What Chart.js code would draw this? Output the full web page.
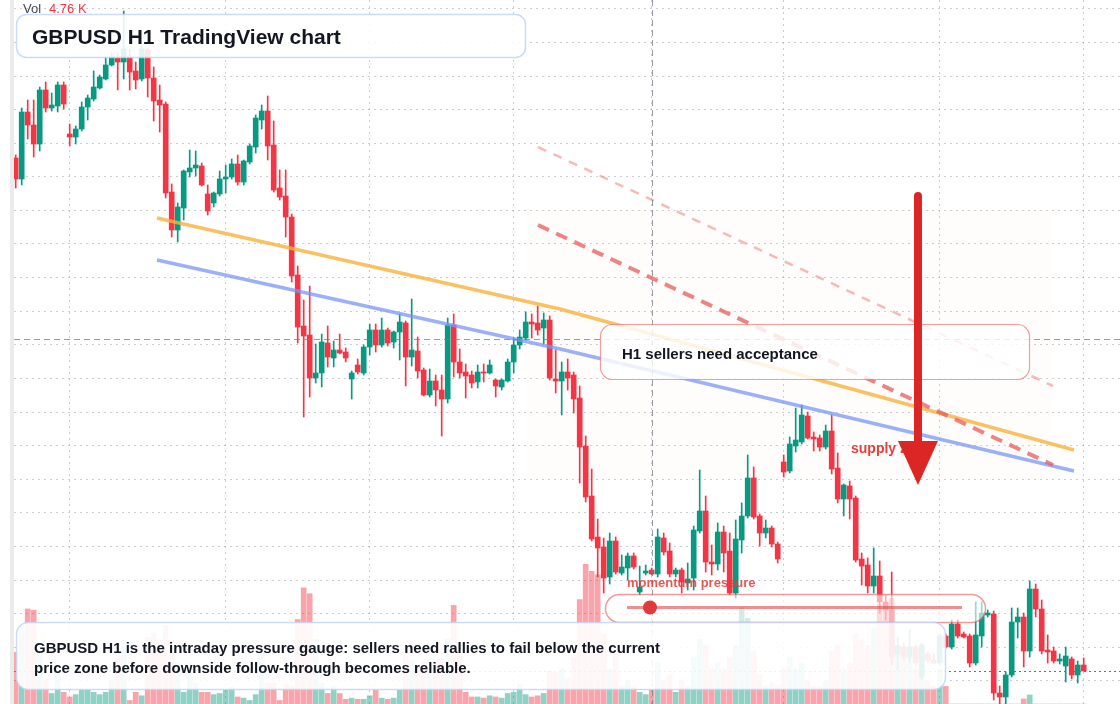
<!DOCTYPE html>
<html>
<head>
<meta charset="utf-8">
<title>GBPUSD H1 TradingView chart</title>
<script src="https://cdn.jsdelivr.net/npm/chart.js@4.4.1/dist/chart.umd.min.js"></script>
<style>
    html, body { margin: 0; padding: 0; background: #ffffff; }
    #wrap { position: relative; width: 1120px; height: 704px; }
</style>
</head>
<body>
<div id="wrap"><canvas id="chart"></canvas></div>
<script>
// GBPUSD hourly candles (oldest first)
const opens = [
    1.27652, 1.27589, 1.27790, 1.27751, 1.27694, 1.27856, 1.27802, 1.27808, 1.27871, 1.27724,
    1.27715, 1.27739, 1.27805, 1.27829, 1.27862, 1.27889, 1.27931, 1.27952, 1.27940, 1.27955,
    1.27913, 1.27889, 1.27976, 1.27892, 1.27826, 1.27814, 1.27550, 1.27436, 1.27502, 1.27610,
    1.27622, 1.27628, 1.27544, 1.27517, 1.27544, 1.27589, 1.27595, 1.27634, 1.27580, 1.27640,
    1.27685, 1.27766, 1.27793, 1.27691, 1.27562, 1.27538, 1.27475, 1.27301, 1.27148, 1.27121,
    1.26992, 1.27007, 1.27097, 1.27052, 1.27076, 1.27070, 1.26989, 1.27031, 1.27007, 1.27085,
    1.27136, 1.27091, 1.27136, 1.27100, 1.27130, 1.27157, 1.27055, 1.27073, 1.27016, 1.26941,
    1.26983, 1.26956, 1.26929, 1.27151, 1.27040, 1.27010, 1.27001, 1.26980, 1.27010, 1.27007,
    1.26986, 1.26965, 1.26983, 1.27040, 1.27091, 1.27112, 1.27160, 1.27157, 1.27142, 1.27166,
    1.26989, 1.26983, 1.27010, 1.27001, 1.26932, 1.26788, 1.26638, 1.26515, 1.26485, 1.26395,
    1.26503, 1.26407, 1.26422, 1.26458, 1.26350, 1.26407, 1.26416, 1.26404, 1.26512, 1.26473,
    1.26404, 1.26416, 1.26377, 1.26392, 1.26533, 1.26593, 1.26440, 1.26434, 1.26530, 1.26473,
    1.26347, 1.26506, 1.26578, 1.26692, 1.26578, 1.26527, 1.26542, 1.26494, 1.26740, 1.26713,
    1.26788, 1.26800, 1.26878, 1.26815, 1.26812, 1.26785, 1.26833, 1.26722, 1.26629, 1.26668,
    1.26632, 1.26449, 1.26431, 1.26368, 1.26398, 1.26320, 1.26296, 1.26164, 1.26185, 1.26155,
    1.26185, 1.26095, 1.26164, 1.26146, 1.26137, 1.26218, 1.26185, 1.26254, 1.26224, 1.26218,
    1.26137, 1.26218, 1.26281, 1.26284, 1.26047, 1.26035, 1.26101, 1.26260, 1.26275, 1.26173,
    1.26359, 1.26299, 1.26176, 1.26173, 1.26143, 1.26128, 1.26149, 1.26101, 1.26131
];
const highs = [
    1.27661, 1.27802, 1.27826, 1.27826, 1.27865, 1.27880, 1.27847, 1.27880, 1.27880, 1.27754,
    1.27748, 1.27820, 1.27841, 1.27913, 1.27901, 1.27955, 1.27967, 1.27967, 1.28093, 1.27979,
    1.27940, 1.27988, 1.27982, 1.27925, 1.27871, 1.27820, 1.27574, 1.27517, 1.27616, 1.27676,
    1.27673, 1.27637, 1.27571, 1.27550, 1.27613, 1.27631, 1.27649, 1.27661, 1.27646, 1.27694,
    1.27781, 1.27811, 1.27838, 1.27763, 1.27616, 1.27616, 1.27484, 1.27328, 1.27226, 1.27268,
    1.27094, 1.27124, 1.27148, 1.27103, 1.27124, 1.27082, 1.27013, 1.27049, 1.27091, 1.27154,
    1.27154, 1.27172, 1.27142, 1.27133, 1.27184, 1.27163, 1.27229, 1.27115, 1.27022, 1.27019,
    1.27001, 1.27001, 1.27172, 1.27184, 1.27079, 1.27034, 1.27013, 1.27031, 1.27034, 1.27046,
    1.26989, 1.26989, 1.27049, 1.27112, 1.27136, 1.27190, 1.27184, 1.27208, 1.27187, 1.27178,
    1.27076, 1.27040, 1.27049, 1.27010, 1.26968, 1.26818, 1.26719, 1.26569, 1.26512, 1.26527,
    1.26515, 1.26461, 1.26467, 1.26467, 1.26428, 1.26431, 1.26422, 1.26539, 1.26527, 1.26497,
    1.26422, 1.26422, 1.26437, 1.26548, 1.26716, 1.26638, 1.26491, 1.26557, 1.26548, 1.26527,
    1.26566, 1.26617, 1.26761, 1.26725, 1.26584, 1.26566, 1.26548, 1.26500, 1.26761, 1.26815,
    1.26902, 1.26911, 1.26890, 1.26830, 1.26821, 1.26851, 1.26881, 1.26767, 1.26674, 1.26683,
    1.26638, 1.26467, 1.26452, 1.26482, 1.26443, 1.26341, 1.26410, 1.26215, 1.26197, 1.26236,
    1.26191, 1.26197, 1.26170, 1.26164, 1.26224, 1.26224, 1.26266, 1.26266, 1.26230, 1.26224,
    1.26320, 1.26320, 1.26296, 1.26293, 1.26068, 1.26110, 1.26302, 1.26302, 1.26287, 1.26383,
    1.26374, 1.26326, 1.26221, 1.26185, 1.26164, 1.26185, 1.26155, 1.26143, 1.26152
];
const lows = [
    1.27562, 1.27571, 1.27709, 1.27655, 1.27673, 1.27790, 1.27793, 1.27790, 1.27799, 1.27688,
    1.27694, 1.27733, 1.27766, 1.27823, 1.27859, 1.27886, 1.27928, 1.27856, 1.27889, 1.27856,
    1.27859, 1.27883, 1.27835, 1.27763, 1.27730, 1.27532, 1.27415, 1.27400, 1.27466, 1.27595,
    1.27598, 1.27568, 1.27481, 1.27505, 1.27538, 1.27547, 1.27589, 1.27571, 1.27571, 1.27634,
    1.27667, 1.27739, 1.27646, 1.27550, 1.27526, 1.27415, 1.27280, 1.27097, 1.26875, 1.26935,
    1.26977, 1.26965, 1.27025, 1.27025, 1.27064, 1.27040, 1.26929, 1.27004, 1.27001, 1.27061,
    1.27070, 1.27085, 1.27088, 1.27082, 1.27046, 1.26968, 1.27028, 1.26992, 1.26938, 1.26935,
    1.26908, 1.26818, 1.26917, 1.26995, 1.26992, 1.26932, 1.26962, 1.26962, 1.26980, 1.27004,
    1.26935, 1.26956, 1.26980, 1.27007, 1.27079, 1.27106, 1.27112, 1.27121, 1.27094, 1.26986,
    1.26947, 1.26881, 1.26956, 1.26887, 1.26677, 1.26620, 1.26503, 1.26395, 1.26347, 1.26374,
    1.26404, 1.26401, 1.26386, 1.26419, 1.26341, 1.26401, 1.26401, 1.26395, 1.26461, 1.26395,
    1.26395, 1.26347, 1.26356, 1.26356, 1.26527, 1.26410, 1.26401, 1.26416, 1.26410, 1.26341,
    1.26332, 1.26467, 1.26572, 1.26569, 1.26488, 1.26512, 1.26485, 1.26437, 1.26695, 1.26707,
    1.26770, 1.26794, 1.26809, 1.26773, 1.26773, 1.26779, 1.26704, 1.26617, 1.26578, 1.26569,
    1.26440, 1.26371, 1.26347, 1.26347, 1.26287, 1.26266, 1.26131, 1.26116, 1.26146, 1.26137,
    1.26125, 1.26089, 1.26137, 1.26134, 1.26131, 1.26182, 1.26179, 1.26212, 1.26212, 1.26125,
    1.26131, 1.26185, 1.26275, 1.26026, 1.26014, 1.26014, 1.26095, 1.26212, 1.26125, 1.26155,
    1.26275, 1.26164, 1.26137, 1.26137, 1.26134, 1.26080, 1.26089, 1.26077, 1.26113
];
const closes = [
    1.27589, 1.27790, 1.27751, 1.27694, 1.27856, 1.27802, 1.27811, 1.27871, 1.27814, 1.27715,
    1.27739, 1.27805, 1.27832, 1.27865, 1.27895, 1.27931, 1.27955, 1.27940, 1.27979, 1.27910,
    1.27886, 1.27979, 1.27892, 1.27823, 1.27811, 1.27547, 1.27436, 1.27505, 1.27613, 1.27622,
    1.27631, 1.27571, 1.27493, 1.27547, 1.27589, 1.27595, 1.27634, 1.27580, 1.27643, 1.27688,
    1.27772, 1.27793, 1.27688, 1.27556, 1.27535, 1.27475, 1.27298, 1.27145, 1.27118, 1.26992,
    1.27007, 1.27100, 1.27055, 1.27076, 1.27067, 1.27052, 1.27007, 1.27010, 1.27085, 1.27136,
    1.27091, 1.27136, 1.27097, 1.27130, 1.27160, 1.27055, 1.27076, 1.27013, 1.26941, 1.26983,
    1.26956, 1.26929, 1.27151, 1.27040, 1.27007, 1.26998, 1.26977, 1.27010, 1.27007, 1.27031,
    1.26968, 1.26986, 1.27040, 1.27091, 1.27115, 1.27160, 1.27154, 1.27136, 1.27166, 1.26992,
    1.26983, 1.27010, 1.26992, 1.26929, 1.26785, 1.26635, 1.26509, 1.26482, 1.26392, 1.26503,
    1.26410, 1.26425, 1.26458, 1.26425, 1.26365, 1.26413, 1.26404, 1.26515, 1.26470, 1.26404,
    1.26416, 1.26380, 1.26389, 1.26536, 1.26593, 1.26440, 1.26434, 1.26530, 1.26467, 1.26347,
    1.26509, 1.26578, 1.26692, 1.26575, 1.26527, 1.26542, 1.26494, 1.26449, 1.26710, 1.26794,
    1.26806, 1.26881, 1.26812, 1.26809, 1.26785, 1.26833, 1.26719, 1.26629, 1.26671, 1.26629,
    1.26446, 1.26428, 1.26368, 1.26398, 1.26320, 1.26296, 1.26155, 1.26188, 1.26155, 1.26185,
    1.26137, 1.26191, 1.26146, 1.26137, 1.26218, 1.26185, 1.26254, 1.26218, 1.26215, 1.26137,
    1.26221, 1.26287, 1.26287, 1.26047, 1.26035, 1.26101, 1.26260, 1.26275, 1.26173, 1.26359,
    1.26299, 1.26173, 1.26170, 1.26143, 1.26149, 1.26158, 1.26101, 1.26131, 1.26113
];
// volume in thousands
const volumes = [
    4.4, 6.6, 8.1, 8.0, 4.6, 2.1, 0.9, 2.6, 1.0, 0.6,
    0.8, 1.2, 1.2, 1.0, 0.8, 1.0, 2.0, 4.0, 5.2, 0.3,
    1.0, 0.7, 5.7, 6.1, 5.5, 6.7, 4.3, 3.5, 1.0, 3.5,
    1.8, 1.0, 1.0, 0.8, 0.9, 1.2, 1.4, 0.6, 0.5, 0.3,
    0.8, 4.6, 1.8, 1.8, 0.3, 1.7, 1.5, 7.2, 9.9, 9.4,
    5.5, 1.8, 0.9, 1.5, 0.9, 0.4, 0.5, 0.4, 0.4, 0.7,
    1.2, 0.5, 0.4, 0.5, 1.2, 4.6, 3.7, 3.2, 3.6, 3.0,
    3.4, 3.8, 5.5, 8.4, 4.4, 1.0, 0.6, 0.6, 0.5, 0.7,
    0.6, 0.5, 0.9, 1.0, 1.7, 0.8, 0.6, 0.7, 0.9, 2.8,
    2.7, 3.0, 2.2, 4.0, 8.9, 11.9, 11.3, 11.0, 6.0, 3.0,
    4.5, 1.5, 2.0, 1.5, 1.0, 0.8, 1.2, 3.5, 2.0, 2.5,
    1.0, 2.0, 1.5, 4.0, 5.5, 5.0, 3.0, 3.5, 3.0, 4.0,
    5.0, 8.2, 7.3, 4.5, 2.5, 1.5, 1.8, 1.6, 3.0, 4.0,
    3.0, 3.5, 2.0, 1.5, 1.5, 2.0, 4.5, 5.0, 3.0, 3.5,
    6.0, 5.5, 5.0, 6.5, 8.5, 8.0, 9.0, 5.0, 4.0, 4.0,
    3.0, 5.0, 2.0, 1.5, 3.0, 1.5, 0, 0, 0, 0,
    0, 0, 0, 0, 0, 0, 0, 0, 0.43, 0.77,
    0, 0, 0, 0, 0, 0, 0, 0, 0
];
// hour bars that start a new session (vertical grid)
const sessionStarts = [9, 35, 59, 83, 106, 128, 154, 178];
const lastVolumeLabel = '4.76 K';

// drawn levels: [bar index, price] pairs
const resistanceLine = [[23.55, 1.27472], [90.72, 1.27199], [176.38, 1.26776]];
const supportLine = [[23.55, 1.27346], [90.72, 1.27079], [176.38, 1.26713]];
const channelLower = [[87.05, 1.27451], [172.88, 1.26731]];
const channelUpper = [[87.05, 1.27685], [172.88, 1.26968]];
const supplyZone = { from: 85.2, to: 172.7, top: 1.27496, bottom: 1.26692 };
const crosshair = { index: 106, price: 1.27109 };
const arrow = { index: 150.38, from: 1.27538, to: 1.26671 };

const UP = '#089981';
const DOWN = '#f23645';
const priceMax = 1.28126;
const priceMin = 1.26014;
const gridTop = 1.280996;
const gridStep = 0.001008;

const idx = opens.map((_, i) => i);
const rising = idx.map(i => closes[i] >= opens[i]);

function roundRect(ctx, x, y, w, h, r) {
    ctx.beginPath();
    ctx.moveTo(x + r, y);
    ctx.arcTo(x + w, y, x + w, y + h, r);
    ctx.arcTo(x + w, y + h, x, y + h, r);
    ctx.arcTo(x, y + h, x, y, r);
    ctx.arcTo(x, y, x + w, y, r);
    ctx.closePath();
}

function lineSet(points, color, width, dash) {
    return {
        type: 'line',
        data: points.map(p => ({ x: p[0], y: p[1] })),
        borderColor: color,
        borderWidth: width,
        borderDash: dash || [],
        pointRadius: 0,
        fill: false,
        tension: 0,
        order: 0,
        yAxisID: 'y'
    };
}

const overlay = {
    id: 'overlay',
    beforeDraw(chart) {
        const ctx = chart.ctx;
        ctx.save();
        ctx.fillStyle = '#ffffff';
        ctx.fillRect(0, 0, chart.width, chart.height);
        ctx.fillStyle = '#ebebeb';
        ctx.fillRect(10, 0, 4, chart.height);
        ctx.restore();
    },
    beforeDatasetsDraw(chart) {
        const ctx = chart.ctx;
        const xs = chart.scales.x, ys = chart.scales.y;
        const x0 = xs.getPixelForValue(supplyZone.from);
        const x1 = xs.getPixelForValue(supplyZone.to);
        const y0 = ys.getPixelForValue(supplyZone.top);
        const y1 = ys.getPixelForValue(supplyZone.bottom);
        ctx.save();
        ctx.fillStyle = 'rgba(245, 220, 205, 0.07)';
        roundRect(ctx, x0, y0, x1 - x0, y1 - y0, 8);
        ctx.fill();
        ctx.restore();
    },
    afterDatasetsDraw(chart) {
        const ctx = chart.ctx;
        const xs = chart.scales.x, ys = chart.scales.y;
        const area = chart.chartArea;
        ctx.save();

        // crosshair
        ctx.strokeStyle = 'rgba(120, 123, 134, 0.75)';
        ctx.lineWidth = 1;
        ctx.setLineDash([6, 4]);
        const cx = Math.round(xs.getPixelForValue(crosshair.index)) + 0.5;
        const cy = Math.round(ys.getPixelForValue(crosshair.price)) + 0.5;
        ctx.beginPath();
        ctx.moveTo(cx, 0); ctx.lineTo(cx, chart.height);
        ctx.moveTo(area.left, cy); ctx.lineTo(area.right, cy);
        ctx.stroke();

        // last price line
        const py = Math.round(ys.getPixelForValue(closes[closes.length - 1])) + 0.5;
        ctx.strokeStyle = DOWN;
        ctx.setLineDash([2, 3]);
        ctx.beginPath();
        ctx.moveTo(area.left, py); ctx.lineTo(area.right, py);
        ctx.stroke();
        ctx.setLineDash([]);

        const font = (w, s) => `${w} ${s}px 'Liberation Sans', Arial, sans-serif`;

        // volume readout
        ctx.textBaseline = 'alphabetic';
        ctx.font = font('normal', 13);
        ctx.fillStyle = '#434651';
        ctx.fillText('Vol', 23, 13);
        ctx.fillStyle = DOWN;
        ctx.fillText(lastVolumeLabel, 49, 13);

        // title card
        roundRect(ctx, 16.5, 14.5, 509, 43, 10);
        ctx.fillStyle = 'rgba(255, 255, 255, 0.88)';
        ctx.fill();
        ctx.strokeStyle = 'rgba(190, 210, 245, 0.8)';
        ctx.lineWidth = 1.5;
        ctx.stroke();
        ctx.fillStyle = '#131722';
        ctx.font = font('bold', 21);
        ctx.fillText('GBPUSD H1 TradingView chart', 32, 43.5);

        // acceptance callout
        roundRect(ctx, 600.5, 324.5, 429, 55, 12);
        ctx.fillStyle = 'rgba(255, 255, 255, 0.82)';
        ctx.fill();
        ctx.strokeStyle = 'rgba(235, 95, 95, 0.6)';
        ctx.lineWidth = 1.2;
        ctx.stroke();
        ctx.fillStyle = '#131722';
        ctx.font = font('bold', 15);
        ctx.fillText('H1 sellers need acceptance', 622, 359);

        // supply zone tag
        ctx.fillStyle = '#e0423c';
        ctx.font = font('bold', 14);
        ctx.fillText('supply zone', 851, 453);

        // down arrow
        const ax = xs.getPixelForValue(arrow.index);
        const ay0 = ys.getPixelForValue(arrow.from);
        const ay1 = ys.getPixelForValue(arrow.to);
        ctx.strokeStyle = '#dc2626';
        ctx.fillStyle = '#dc2626';
        ctx.lineWidth = 8;
        ctx.lineCap = 'round';
        ctx.beginPath();
        ctx.moveTo(ax, ay0); ctx.lineTo(ax, ay1 - 40);
        ctx.stroke();
        ctx.lineCap = 'butt';
        ctx.beginPath();
        ctx.moveTo(ax - 20, ay1 - 44);
        ctx.lineTo(ax + 20, ay1 - 44);
        ctx.lineTo(ax, ay1);
        ctx.closePath();
        ctx.fill();

        // momentum gauge
        ctx.fillStyle = 'rgba(224, 60, 60, 0.85)';
        ctx.font = font('bold', 13);
        ctx.fillText('momentum pressure', 627, 587);
        roundRect(ctx, 605.5, 594.5, 380, 28, 14);
        ctx.fillStyle = 'rgba(255, 255, 255, 0.6)';
        ctx.fill();
        ctx.strokeStyle = 'rgba(230, 90, 90, 0.6)';
        ctx.lineWidth = 1.5;
        ctx.stroke();
        ctx.strokeStyle = 'rgba(222, 70, 70, 0.6)';
        ctx.lineWidth = 3;
        ctx.beginPath();
        ctx.moveTo(627, 607.5); ctx.lineTo(962, 607.5);
        ctx.stroke();
        ctx.fillStyle = '#e03a3a';
        ctx.beginPath();
        ctx.arc(650, 607.5, 7, 0, Math.PI * 2);
        ctx.fill();

        // bottom note
        roundRect(ctx, 16.5, 622.5, 929, 67, 12);
        ctx.fillStyle = 'rgba(255, 255, 255, 0.9)';
        ctx.fill();
        ctx.strokeStyle = 'rgba(190, 210, 245, 0.8)';
        ctx.lineWidth = 1.5;
        ctx.stroke();
        ctx.fillStyle = '#131722';
        ctx.font = font('bold', 15);
        ctx.fillText('GBPUSD H1 is the intraday pressure gauge: sellers need rallies to fail below the current', 34, 652.5);
        ctx.fillText('price zone before downside follow-through becomes reliable.', 34, 672.5);

        ctx.restore();
    }
};

const gridColor = 'rgba(150, 155, 165, 0.5)';

new Chart(document.getElementById('chart'), {
    type: 'bar',
    data: {
        datasets: [
            {
                label: 'Volume',
                yAxisID: 'yVol',
                data: idx.map(i => ({ x: i, y: volumes[i] })),
                backgroundColor: idx.map(i => rising[i] ? 'rgba(8, 153, 129, 0.45)' : 'rgba(242, 54, 69, 0.45)'),
                barThickness: 5,
                grouped: false,
                order: 3
            },
            {
                label: 'Wicks',
                yAxisID: 'y',
                data: idx.map(i => ({ x: i, y: [lows[i], highs[i]] })),
                backgroundColor: idx.map(i => rising[i] ? UP : DOWN),
                barThickness: 1,
                grouped: false,
                order: 2
            },
            {
                label: 'Bodies',
                yAxisID: 'y',
                data: idx.map(i => ({ x: i, y: [opens[i], closes[i]] })),
                backgroundColor: idx.map(i => rising[i] ? UP : DOWN),
                barThickness: 5,
                minBarLength: 1,
                grouped: false,
                order: 1
            },
            lineSet(channelUpper, 'rgba(240, 130, 130, 0.55)', 2.5, [9, 8]),
            lineSet(channelLower, 'rgba(232, 90, 90, 0.75)', 4, [12, 8]),
            lineSet(resistanceLine, 'rgba(249, 178, 60, 0.8)', 3.5),
            lineSet(supportLine, 'rgba(120, 150, 245, 0.75)', 3.5)
        ]
    },
    options: {
        responsive: true,
        maintainAspectRatio: false,
        animation: false,
        events: [],
        layout: { padding: { left: 14, right: 0, top: 0, bottom: 0 } },
        plugins: {
            legend: { display: false },
            tooltip: { enabled: false }
        },
        scales: {
            x: {
                type: 'linear',
                offset: false,
                min: -0.283,
                max: 184.05,
                afterBuildTicks: scale => { scale.ticks = sessionStarts.map(v => ({ value: v })); },
                ticks: { display: false },
                grid: { color: gridColor, drawTicks: false, offset: false },
                border: { display: false, dash: [2, 4] }
            },
            y: {
                type: 'linear',
                min: priceMin,
                max: priceMax,
                afterBuildTicks: scale => {
                    scale.ticks = Array.from({ length: 21 }, (_, k) => ({ value: gridTop - k * gridStep }));
                },
                ticks: { display: false },
                grid: { color: gridColor, drawTicks: false },
                border: { display: false, dash: [2, 4] }
            },
            yVol: {
                type: 'linear',
                min: 0,
                max: 60,
                display: false
            }
        }
    },
    plugins: [overlay]
});
</script>
</body>
</html>
